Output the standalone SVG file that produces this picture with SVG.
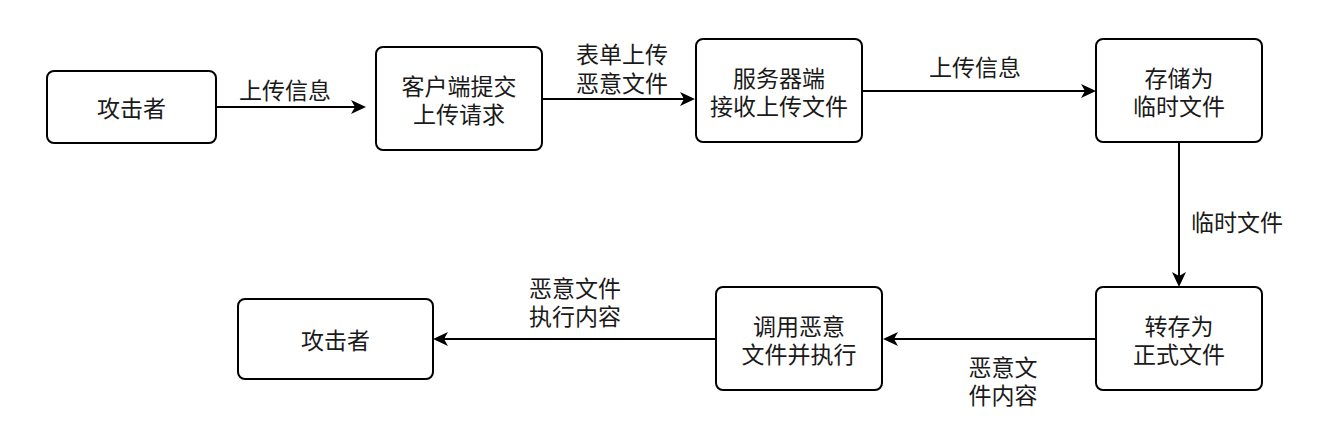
<svg xmlns="http://www.w3.org/2000/svg" width="1339" height="437" viewBox="0 0 1339 437">
<style>
.box{fill:#fff;stroke:#000;stroke-width:2}
.t{font-family:"Noto Sans CJK SC","Noto Sans",sans-serif;font-size:23px;fill:#1a1a1a;text-anchor:middle;dominant-baseline:central}
.e{fill:none;stroke:#000;stroke-width:2}
</style>
<defs>
<marker id="ah" markerUnits="userSpaceOnUse" viewBox="0 0 15 14" markerWidth="15" markerHeight="14" refX="4" refY="7" orient="auto">
<path d="M0,0 L15,7 L0,14 L4,7 Z" fill="#000"/>
</marker>
</defs>
<rect width="1339" height="437" fill="#fff"/>
<g id="connectors">
<line class="e" x1="216" y1="107" x2="355" y2="107" marker-end="url(#ah)"/>
<line class="e" x1="542" y1="99" x2="684" y2="99" marker-end="url(#ah)"/>
<line class="e" x1="862" y1="91" x2="1085" y2="91" marker-end="url(#ah)"/>
<line class="e" x1="1179" y1="142" x2="1179" y2="276" marker-end="url(#ah)"/>
<line class="e" x1="1096" y1="339" x2="894" y2="339" marker-end="url(#ah)"/>
<line class="e" x1="716" y1="339" x2="444" y2="339" marker-end="url(#ah)"/>
<text class="t" x="285" y="89">上传信息</text>
<text class="t" x="622" y="53">表单上传<tspan x="622" dy="29">恶意文件</tspan></text>
<text class="t" x="975" y="66">上传信息</text>
<text class="t" x="1237" y="221">临时文件</text>
<text class="t" x="1003" y="366">恶意文<tspan x="1003" dy="28">件内容</tspan></text>
<text class="t" x="575" y="287">恶意文件<tspan x="575" dy="28">执行内容</tspan></text>
</g>
<g id="n1">
<rect class="box" x="47" y="71" width="169" height="72" rx="7"/>
<text class="t" x="131.5" y="107">攻击者</text>
</g>
<g id="n2">
<rect class="box" x="376" y="47" width="166" height="103" rx="7"/>
<text class="t" x="459" y="85">客户端提交<tspan x="459" dy="28">上传请求</tspan></text>
</g>
<g id="n3">
<rect class="box" x="696" y="39" width="166" height="103" rx="7"/>
<text class="t" x="779" y="77">服务器端<tspan x="779" dy="28">接收上传文件</tspan></text>
</g>
<g id="n4">
<rect class="box" x="1096" y="39" width="166" height="103" rx="7"/>
<text class="t" x="1179" y="77">存储为<tspan x="1179" dy="28">临时文件</tspan></text>
</g>
<g id="n5">
<rect class="box" x="1096" y="287" width="166" height="103" rx="7"/>
<text class="t" x="1179" y="325">转存为<tspan x="1179" dy="28">正式文件</tspan></text>
</g>
<g id="n6">
<rect class="box" x="716" y="287" width="166" height="103" rx="7"/>
<text class="t" x="799" y="325">调用恶意<tspan x="799" dy="28">文件并执行</tspan></text>
</g>
<g id="n7">
<rect class="box" x="238" y="299" width="195" height="80" rx="7"/>
<text class="t" x="335.5" y="339">攻击者</text>
</g>
</svg>
